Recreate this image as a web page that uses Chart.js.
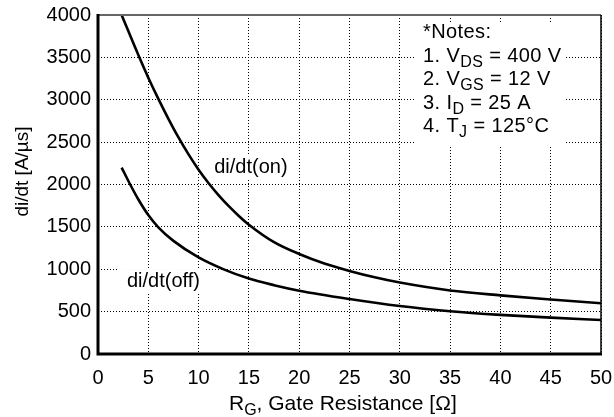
<!DOCTYPE html>
<html>
<head>
<meta charset="utf-8">
<script src="https://cdn.jsdelivr.net/npm/chart.js@4/dist/chart.umd.min.js"></script>
<style>
  html, body { margin: 0; padding: 0; background: #fff; }
  #wrap { width: 614px; height: 417px; }
</style>
</head>
<body>
<div id="wrap"><canvas id="chart" width="614" height="417"></canvas></div>
<script>
// gate resistance (ohm) and di/dt (A/us)
const rgOn = [2.35, 4, 5, 6, 7, 8, 9, 10, 11, 12, 13, 14, 15, 17.5, 20, 22.5, 25, 27.5, 30, 35, 40, 45, 50];
const didtOn = [4000, 3530, 3260, 3010, 2775, 2555, 2355, 2175, 2015, 1872, 1744, 1629, 1526, 1320, 1180, 1068, 980, 905, 843, 750, 692, 643, 598];

const rgOff = [2.35, 3.2, 4, 5, 6, 7.5, 10, 12.5, 15, 17.5, 20, 25, 30, 35, 40, 45, 50];
const didtOff = [2200, 2000, 1826, 1640, 1495, 1335, 1140, 999, 890, 812, 747, 649, 566, 505, 462, 429, 401];

const xTitle = [['R', 0], ['G', 1], [', Gate Resistance [\u03A9]', 0]];
const yTitle = 'di/dt [A/\u00B5s]';
const curveLabels = [
  { text: 'di/dt(on)', x: 11.55, y: 2130 },
  { text: 'di/dt(off)', x: 2.88, y: 790 }
];
const notes = [
  [['*Notes:', 0]],
  [['1. V', 0], ['DS', 1], [' = 400 V', 0]],
  [['2. V', 0], ['GS', 1], [' = 12 V', 0]],
  [['3. I', 0], ['D', 1], [' = 25 A', 0]],
  [['4. T', 0], ['J', 1], [' = 125\u00B0C', 0]]
];

const FONT = '"Liberation Sans", Arial, sans-serif';

function drawRich(ctx, parts, x, y, size, subScale) {
  let cx = x;
  parts.forEach(([t, sub]) => {
    ctx.font = (sub ? Math.round(size * subScale) : size) + 'px ' + FONT;
    ctx.fillText(t, cx, sub ? y + size * 0.25 : y);
    cx += ctx.measureText(t).width;
  });
  return cx - x;
}

const annotations = {
  id: 'annotations',
  beforeDatasetsDraw(chart) {
    const ctx = chart.ctx;
    const xs = chart.scales.x, ys = chart.scales.y;
    ctx.save();
    ctx.textBaseline = 'alphabetic';
    ctx.textAlign = 'left';

    // notes block
    const nx = 423, ny = 38, lh = 23.6;
    ctx.fillStyle = '#fff';
    ctx.fillRect(414, 22, 150, 123);
    ctx.fillStyle = '#000';
    ctx.letterSpacing = '0.4px';
    notes.forEach((line, i) => drawRich(ctx, line, nx, ny + i * lh, 20, 0.82));
    ctx.letterSpacing = '0px';

    // curve labels with white background
    ctx.font = '20px ' + FONT;
    curveLabels.forEach(l => {
      const px = xs.getPixelForValue(l.x), py = ys.getPixelForValue(l.y);
      const w = ctx.measureText(l.text).width;
      ctx.fillStyle = '#fff';
      ctx.fillRect(px - 8, py - 18, w + 12, 23);
      ctx.fillStyle = '#000';
      ctx.fillText(l.text, px, py);
    });
    ctx.restore();
  },
  afterDraw(chart) {
    const ctx = chart.ctx;
    const a = chart.chartArea;
    ctx.save();
    // frame
    ctx.strokeStyle = '#666';
    ctx.lineWidth = 2;
    ctx.beginPath();
    ctx.moveTo(a.left, a.top); ctx.lineTo(a.right, a.top);
    ctx.stroke();
    ctx.strokeStyle = '#000';
    ctx.lineWidth = 1.5;
    ctx.beginPath();
    ctx.moveTo(a.right, a.top); ctx.lineTo(a.right, a.bottom);
    ctx.stroke();
    ctx.lineWidth = 3;
    ctx.beginPath();
    ctx.moveTo(a.left, a.top - 1); ctx.lineTo(a.left, a.bottom); ctx.lineTo(a.right + 1, a.bottom);
    ctx.stroke();

    // axis titles
    ctx.fillStyle = '#000';
    ctx.textBaseline = 'alphabetic';
    ctx.textAlign = 'left';
    drawRich(ctx, xTitle, 229, 410, 21, 0.75);

    ctx.translate(28, 171.5);
    ctx.rotate(-Math.PI / 2);
    ctx.textAlign = 'center';
    ctx.font = '19px ' + FONT;
    ctx.fillText(yTitle, 0, 0);
    ctx.restore();
  }
};

const toPoints = (xs, ys) => xs.map((x, i) => ({ x, y: ys[i] }));

const curveStyle = {
  borderColor: '#000',
  borderWidth: 2.6,
  pointRadius: 0,
  fill: false,
  cubicInterpolationMode: 'monotone'
};

const gridStyle = {
  color: '#000',
  lineWidth: 1,
  drawTicks: false
};

new Chart(document.getElementById('chart').getContext('2d'), {
  type: 'line',
  data: {
    datasets: [
      Object.assign({ label: 'di/dt(on)', data: toPoints(rgOn, didtOn) }, curveStyle),
      Object.assign({ label: 'di/dt(off)', data: toPoints(rgOff, didtOff) }, curveStyle)
    ]
  },
  options: {
    responsive: false,
    animation: false,
    layout: { padding: { top: 15, right: 13, left: 0, bottom: 0 } },
    plugins: {
      legend: { display: false },
      tooltip: { enabled: false }
    },
    scales: {
      x: {
        type: 'linear',
        min: 0,
        max: 50,
        border: { display: false, dash: [1, 2] },
        grid: gridStyle,
        ticks: {
          stepSize: 5,
          padding: 12,
          color: '#000',
          font: { family: FONT, size: 20 },
          maxRotation: 0,
          callback: v => String(v)
        },
        afterFit(scale) {
          scale.height = 63;
          scale.paddingLeft = 0;
          scale.paddingRight = 0;
        }
      },
      y: {
        type: 'linear',
        min: 0,
        max: 4000,
        border: { display: false, dash: [1, 2] },
        grid: gridStyle,
        ticks: {
          stepSize: 500,
          padding: 7,
          color: '#000',
          font: { family: FONT, size: 20 },
          callback: v => String(v)
        },
        afterFit(scale) {
          scale.width = 98;
          scale.paddingTop = 0;
          scale.paddingBottom = 0;
        }
      }
    }
  },
  plugins: [annotations]
});
</script>
</body>
</html>
